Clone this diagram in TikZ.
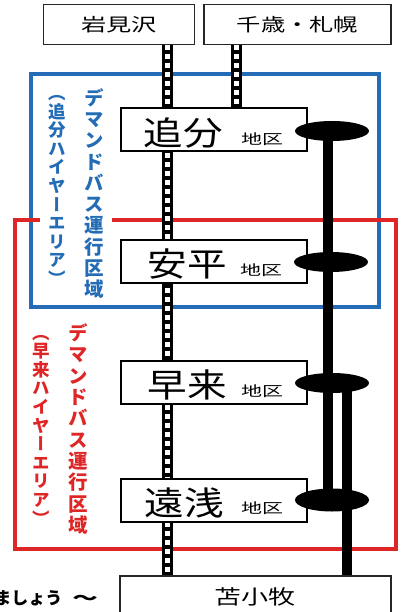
\documentclass[tikz,border=0pt]{standalone}
\usepackage{fontspec}
\usepackage{graphicx}
\usetikzlibrary{shapes.geometric}
\newfontfamily\jp{Noto Sans CJK JP}
\newfontfamily\jpv[RawFeature=+vert]{Noto Sans CJK JP}
\definecolor{areablue}{RGB}{36,108,182}
\definecolor{areared}{RGB}{222,38,38}
\pgfdeclarelayer{areas}
\pgfdeclarelayer{lines}
\pgfsetlayers{areas,lines,main}
\begin{document}
\begin{tikzpicture}[x=1pt,y=-1pt,
  tbox/.style={draw=black!85, line width=1.4pt, fill=white, inner sep=0pt, font=\jp\fontsize{18}{18}\selectfont},
  sbox/.style={draw=black, line width=2pt, fill=white, minimum width=186pt, minimum height=43pt, inner sep=0pt},
  ell/.style={ellipse, fill=black, minimum width=74pt, minimum height=20pt, inner sep=0pt},
  rail/.style={line width=11pt, draw=black, postaction={draw=white, line width=5pt, dash pattern=on 5pt off 4pt}},
  busline/.style={line width=10pt, draw=black},
  bigk/.style={font=\jp\fontsize{33}{33}\selectfont, inner sep=0pt},
  smallk/.style={font=\jp\fontsize{14}{14}\selectfont, inner sep=0pt},
  vmain/.style={font=\jpv\bfseries\fontsize{19.5}{21.3}\selectfont, align=center, inner sep=0pt},
  vparen/.style={font=\jpv\bfseries\fontsize{17.5}{18.6}\selectfont, align=center, inner sep=0pt},
  area/.style={line width=3.5pt}
]
\useasboundingbox (0,0) rectangle (403,612);

% top terminals
\node[tbox, minimum width=151pt, minimum height=40pt] (iwa) at (119,24.5) {\scalebox{1.4}[1]{岩見沢}};
\node[tbox, minimum width=187pt, minimum height=40pt] (chi) at (297.5,24.5) {\scalebox{1.35}[1]{千歳・札幌}};
\node[tbox, minimum width=271pt, minimum height=44pt, font=\jp\fontsize{20}{20}\selectfont] (toma) at (255.5,598) {};
\node[font=\jp\fontsize{20}{20}\selectfont, inner sep=0pt] (tomat) at (255,597) {\scalebox{1.35}[1]{苫小牧}};

% station boxes
\node[sbox] (s1) at (214,130) {};
\node[sbox] (s2) at (214,261) {};
\node[sbox] (s3) at (214,382) {};
\node[sbox] (s4) at (214,500) {};
\node[bigk] (s1a) at (183,133) {\scalebox{1.2}[1]{追分}};
\node[bigk] (s2a) at (187,264) {\scalebox{1.2}[1]{安平}};
\node[bigk] (s3a) at (187,385) {\scalebox{1.2}[1]{早来}};
\node[bigk] (s4a) at (184,503) {\scalebox{1.2}[1]{遠浅}};
\node[smallk] (s1b) at (262,139) {\scalebox{1.5}[1]{地区}};
\node[smallk] (s2b) at (261,270) {\scalebox{1.5}[1]{地区}};
\node[smallk] (s3b) at (262,391) {\scalebox{1.5}[1]{地区}};
\node[smallk] (s4b) at (262,508) {\scalebox{1.5}[1]{地区}};

% bus stops
\node[ell] (e1) at (332,131) {};
\node[ell] (e2) at (331,262) {};
\node[ell] (e3) at (332,383) {};
\node[ell, minimum height=23pt] (e4) at (332,500) {};

% line positions
\coordinate (r1) at (167,0);
\coordinate (r2) at (236,0);
\coordinate (b1) at (328,0);
\coordinate (b2) at (347,0);

\begin{pgfonlayer}{lines}
\draw[rail] (iwa.south -| r1) -- (toma.north -| r1);
\draw[rail] (chi.south -| r2) -- (s1.north -| r2);
\draw[busline] (e1.center -| b1) -- (e4.center -| b1);
\draw[busline] (e3.center -| b2) -- (toma.north -| b2);
\end{pgfonlayer}

\begin{pgfonlayer}{areas}
\draw[area, areablue] (31,74) rectangle (379,307);
\draw[area, areared] (112,220) -- (396,220) -- (396,549) -- (15,549) -- (15,220) -- (40,220);
\end{pgfonlayer}

% area labels
\node[vmain, text=areablue] (bt1) at (94,193.5) {デ\\マ\\ン\\ド\\バ\\ス\\運\\行\\区\\域};
\node[vparen, text=areablue] (bt2) at (57,190.5) {（\\追\\分\\ハ\\イ\\ヤ\\ー\\エ\\リ\\ア\\）};
\node[vmain, text=areared] (rt1) at (78,429) {デ\\マ\\ン\\ド\\バ\\ス\\運\\行\\区\\域};
\node[vparen, text=areared] (rt2) at (41,430) {（\\早\\来\\ハ\\イ\\ヤ\\ー\\エ\\リ\\ア\\）};

% cut-off caption
\node[anchor=east, font=\jp\bfseries\fontsize{17}{17}\selectfont, inner sep=0pt] (cap) at (98,598) {ましょう\hspace{10pt}\scalebox{1.5}[1]{～}};
\end{tikzpicture}
\end{document}
